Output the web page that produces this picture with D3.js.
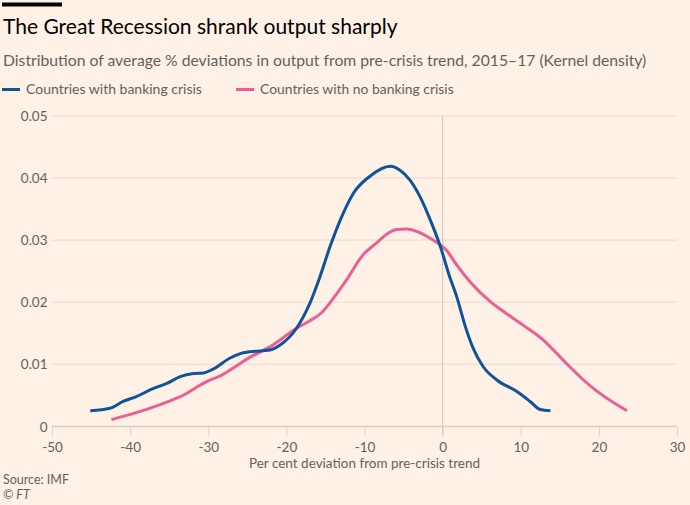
<!DOCTYPE html>
<html><head><meta charset="utf-8">
<script src="https://cdn.jsdelivr.net/npm/d3@7"></script>
<style>
html,body{margin:0;padding:0;background:#fff1e5;}
svg{display:block;font-family:Lato,"Noto Sans",sans-serif;}
</style></head>
<body>
<svg id="c" width="690" height="505"></svg>
<script>
const xTicks = [-50,-40,-30,-20,-10,0,10,20,30];
const xTickLabels = ["-50","-40","-30","-20","-10","0","10","20","30"];
const yTicks = [0,0.01,0.02,0.03,0.04,0.05];
const yTickLabels = ["0","0.01","0.02","0.03","0.04","0.05"];
const seriesNames = ["Countries with banking crisis","Countries with no banking crisis"];
const seriesColors = ["#0f5499","#eb5f92"];

const crisisX = [-45.1,-42.6,-40.9,-39.2,-37.0,-35.3,-33.6,-31.9,-30.6,-29.4,-27.2,-25.9,-24.7,-22.1,-20.8,-18.7,-17.0,-15.7,-14.4,-12.7,-11.4,-9.3,-6.7,-5.5,-4.2,-2.9,-1.6,-0.3,0.9,1.8,2.9,3.9,5.2,6.9,9.5,11.2,12.5,13.8];
const crisisY = [0.0025,0.0029,0.0040,0.0048,0.0061,0.0069,0.0080,0.0085,0.0086,0.0092,0.0110,0.0117,0.0120,0.0123,0.0131,0.0158,0.0198,0.0241,0.0290,0.0344,0.0376,0.0403,0.0419,0.0413,0.0397,0.0370,0.0333,0.0290,0.0241,0.0209,0.0161,0.0126,0.0096,0.0075,0.0056,0.0040,0.0027,0.0025];

const noCrisisX = [-42.4,-40.9,-38.7,-36.6,-34.9,-33.2,-31.5,-30.2,-28.5,-26.8,-24.7,-22.1,-18.7,-17.0,-15.5,-14.0,-12.3,-10.2,-8.4,-7.2,-5.9,-4.6,-3.3,-1.6,0.6,1.8,3.5,6.1,7.8,10.3,12.9,15.4,18.0,19.7,23.6];
const noCrisisY = [0.0011,0.0016,0.0024,0.0033,0.0041,0.0050,0.0063,0.0072,0.0081,0.0094,0.0111,0.0128,0.0158,0.0170,0.0183,0.0206,0.0236,0.0276,0.0296,0.0309,0.0317,0.0318,0.0314,0.0303,0.0282,0.0260,0.0233,0.0201,0.0185,0.0163,0.0139,0.0107,0.0075,0.0057,0.0025];

const svg = d3.select("#c");
const x = d3.scaleLinear().domain([-50,30]).range([52,677]);
const y = d3.scaleLinear().domain([0,0.05]).range([426.3,116]);

// header
svg.append("rect").attr("x",2).attr("y",2.5).attr("width",60).attr("height",4).attr("fill","#000");
function fit(sel, w){ const n=sel.node(); const cur=n.getComputedTextLength(); const fs=parseFloat(sel.attr("font-size")); sel.attr("font-size", fs*w/cur); }
const title = svg.append("text").attr("x",3).attr("y",34.3).attr("font-size",21).attr("fill","#000").text("The Great Recession shrank output sharply");
fit(title, 395);
const sub = svg.append("text").attr("x",3).attr("y",66).attr("font-size",15.5).attr("fill","#66605c").text("Distribution of average % deviations in output from pre-crisis trend, 2015\u201317 (Kernel density)");
fit(sub, 644);

// legend
const legX = [2, 236];
seriesNames.forEach((n,i)=>{
  svg.append("line").attr("x1",legX[i]).attr("x2",legX[i]+18).attr("y1",89.5).attr("y2",89.5).attr("stroke",seriesColors[i]).attr("stroke-width",3);
  const t = svg.append("text").attr("x",legX[i]+24).attr("y",94.3).attr("font-size",13.5).attr("fill","#66605c").text(n);
  fit(t, i===0?176:194);
});

// grid
const gy = svg.append("g");
gy.selectAll("line").data(yTicks.slice(1)).join("line")
  .attr("x1",52).attr("x2",677).attr("y1",d=>y(d)).attr("y2",d=>y(d))
  .attr("stroke","#e9dcd1").attr("stroke-width",1);

// y axis labels
const yAxis = d3.axisLeft(y).tickValues(yTicks).tickFormat((d,i)=>yTickLabels[i]).tickSize(0).tickPadding(4.5);
const ya = svg.append("g").attr("transform","translate(52,0)").call(yAxis);
ya.select(".domain").remove();
ya.selectAll("text").attr("font-size",13.5).attr("fill","#66605c").attr("font-family","Lato,'Noto Sans',sans-serif").attr("dy","0.35em");

// zero vertical line
svg.append("line").attr("x1",x(0)).attr("x2",x(0)).attr("y1",116).attr("y2",436.5).attr("stroke","#d2c6bb").attr("stroke-width",1);

// x axis
const xAxis = d3.axisBottom(x).tickValues(xTicks).tickFormat((d,i)=>xTickLabels[i]).tickSize(10).tickPadding(6);
const xa = svg.append("g").attr("transform","translate(0,426.5)").call(xAxis);
xa.select(".domain").attr("stroke","#d9cdc2").attr("stroke-width",1.5).attr("d","M52,0H677");
xa.selectAll(".tick line").attr("stroke","#e0d4c9");
xa.selectAll("text").attr("font-size",13.5).attr("fill","#66605c").attr("font-family","Lato,'Noto Sans',sans-serif");

svg.append("text").attr("x",364.5).attr("y",467.7).attr("text-anchor","middle").attr("font-size",13.5).attr("fill","#66605c").text("Per cent deviation from pre-crisis trend");

// lines
const line = d3.line().x(d=>x(d[0])).y(d=>y(d[1])).curve(d3.curveMonotoneX);
const data = [d3.zip(crisisX,crisisY), d3.zip(noCrisisX,noCrisisY)];
[1,0].forEach(i=>{
  svg.append("path").datum(data[i]).attr("d",line).attr("fill","none").attr("stroke",seriesColors[i]).attr("stroke-width",3).attr("stroke-linejoin","round");
});

// footer
svg.append("text").attr("x",3).attr("y",484).attr("font-size",12.5).attr("fill","#66605c").text("Source: IMF");
svg.append("text").attr("x",3).attr("y",499).attr("font-size",12.5).attr("fill","#66605c").attr("font-style","italic").text("\u00a9 FT");
</script>
</body></html>
